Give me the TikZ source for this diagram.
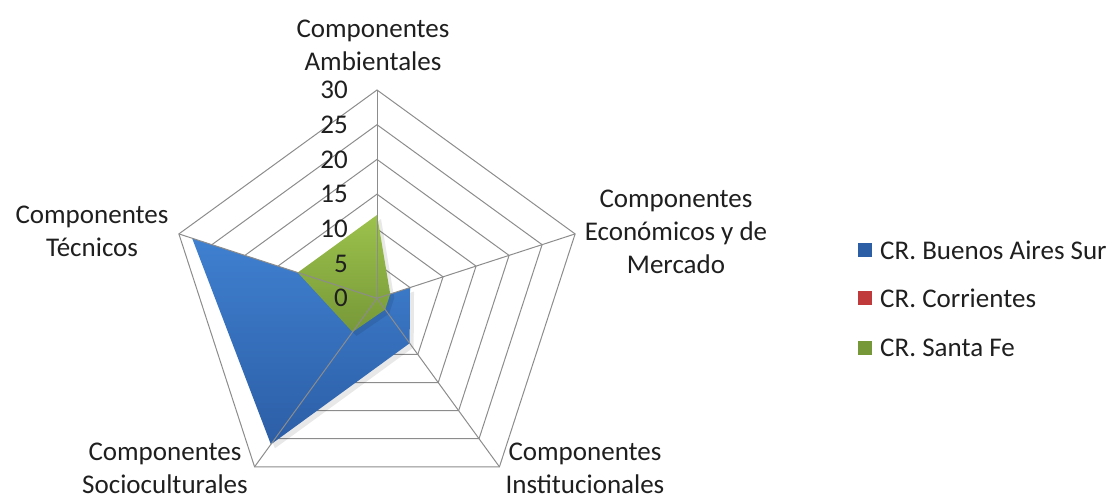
\documentclass[tikz,border=0pt]{standalone}
\usepackage{fontspec}
\setmainfont{Carlito}
\begin{document}
\begin{tikzpicture}[x=1pt,y=1pt,
  font=\fontsize{27}{33}\selectfont,
  every node/.style={text=black!88},
  grid/.style={draw=black!45, line width=1pt, line join=miter},
  spoke/.style={draw=black!45, line width=1pt},
  lbl/.style={align=center, inner sep=0pt},
  tick/.style={anchor=east, inner sep=0pt},
  legsq/.style={minimum size=15pt, inner sep=0pt, draw=white, line width=0.6pt},
  legtx/.style={anchor=west, inner sep=0pt}]
\definecolor{bluetop}{HTML}{3F80D0}
\definecolor{bluebot}{HTML}{2C5EA6}
\definecolor{greentop}{HTML}{9DC24C}
\definecolor{greenbot}{HTML}{779838}
\definecolor{redser}{HTML}{C0393B}
\useasboundingbox (0,0) rectangle (1115,500);
\def\R{208.3}
\def\u{6.9433}
\begin{scope}[shift={(377,201.7)}]
  \coordinate (O) at (0,0);
  \coordinate (A) at (90:\R);
  \coordinate (E) at (18:\R);
  \coordinate (I) at (-54:\R);
  \coordinate (S) at (-126:\R);
  \coordinate (T) at (162:\R);
  % rings
  \foreach \k in {1,...,6}
    \draw[grid] (90:{\k*\R/6}) -- (18:{\k*\R/6}) -- (-54:{\k*\R/6}) -- (-126:{\k*\R/6}) -- (162:{\k*\R/6}) -- cycle;
  % shadow blue
  \fill[black, opacity=0.09, shift={(4,-4)}] (90:0) -- (18:{5*\u}) -- (-54:{8*\u}) -- (-126:{26*\u}) -- (162:{28*\u}) -- cycle;
  % blue series
  \shade[top color=bluetop, bottom color=bluebot] (90:0) -- (18:{5*\u}) -- (-54:{8*\u}) -- (-126:{26*\u}) -- (162:{28*\u}) -- cycle;
  % shadow green
  \fill[black, opacity=0.09, shift={(4,-4)}] (90:{12*\u}) -- (18:{2*\u}) -- (-54:{2*\u}) -- (-126:{6*\u}) -- (162:{12*\u}) -- cycle;
  % green series
  \shade[top color=greentop, bottom color=greenbot] (90:{12*\u}) -- (18:{2*\u}) -- (-54:{2*\u}) -- (-126:{6*\u}) -- (162:{12*\u}) -- cycle;
  % spokes
  \foreach \n in {A,E,I,S,T}
    \draw[spoke] (O) -- (\n);
\end{scope}
% tick labels
\foreach \v in {0,5,...,30}
  \node[tick] (t\v) at (348,{201.7+\v*\u}) {\v};
% axis labels
\node[lbl] (lA) at (373,455) {Componentes\\Ambientales};
\node[lbl] (lE) at (676,268) {Componentes\\Económicos y de\\Mercado};
\node[lbl] (lT) at (92,269) {Componentes\\Técnicos};
\node[lbl] (lS) at (165,32) {Componentes\\Socioculturales};
\node[lbl] (lI) at (585,32) {Componentes\\Institucionales};
% legend
\node[legsq, fill=bluebot] (q1) at (865,250) {};
\node[legsq, fill=redser] (q2) at (865,202) {};
\node[legsq, fill=greenbot] (q3) at (865,152) {};
\node[legtx] (g1) at (880,250) {CR. Buenos Aires Sur};
\node[legtx] (g2) at (880,202) {CR. Corrientes};
\node[legtx] (g3) at (880,152) {CR. Santa Fe};
\end{tikzpicture}
\end{document}
